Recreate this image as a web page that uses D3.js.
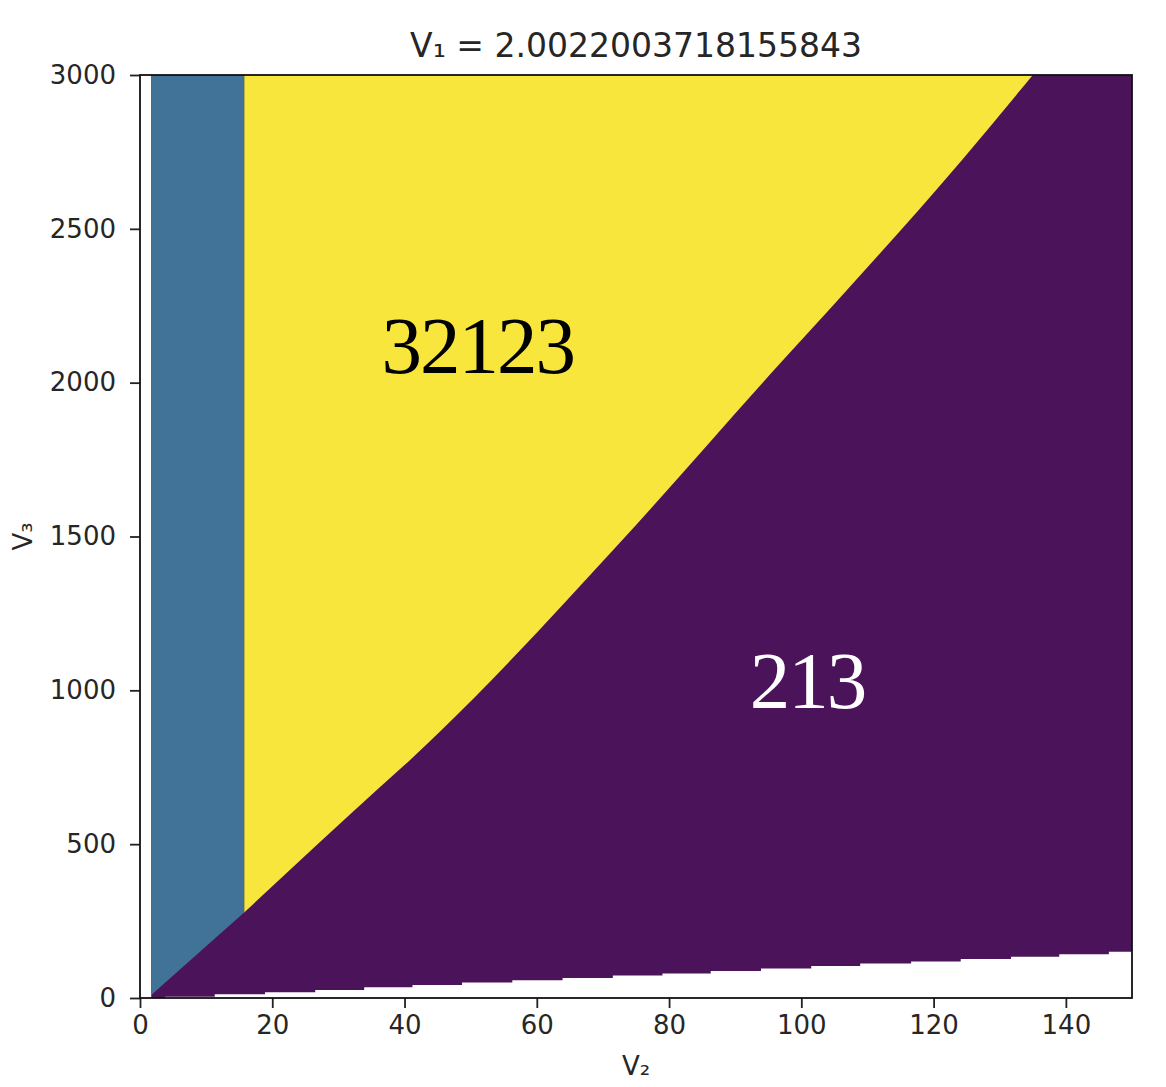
<!DOCTYPE html>
<html>
<head>
<meta charset="utf-8">
<script src="https://cdn.jsdelivr.net/npm/d3@7"></script>
<style>
  body { margin: 0; background: #fff; }
  text { font-family: "DejaVu Sans", sans-serif; }
</style>
</head>
<body>
<div id="regionChart"></div>
<script>
// Axis domains and ticks
const v2Domain = [0, 150];
const v3Domain = [0, 3000];
const xTicks = [0, 20, 40, 60, 80, 100, 120, 140];
const yTicks = [0, 500, 1000, 1500, 2000, 2500, 3000];

// Left edge of the coloured regions and the right edge of the blue band (V2)
const regionStartV2 = 1.7;
const blueEndV2 = 15.7;

// Yellow / purple boundary
const boundaryV2 = [1.7, 15.6, 36.3, 40.8, 45.6, 72.9, 96.8, 106.9, 124.3, 135.0];
const boundaryV3 = [10, 275, 686, 773, 871, 1488, 2063, 2301, 2724, 3000];

// White staircase at the bottom (step start V2, upper level V3)
const stepV2 = [3.8, 11.3, 18.9, 26.5, 33.9, 41.2, 48.7, 56.3, 63.9, 71.5, 79.0, 86.3, 93.9, 101.5, 108.9, 116.6, 124.1, 131.7, 139.0, 146.5, 150];
const stepV3 = [4, 12, 19, 26, 35, 42, 50, 58, 65, 73, 80, 88, 96, 104, 112, 119, 127, 134, 142, 150, 150];

// Region labels
const labelText = ["32123", "213"];
const labelV2 = [36.5, 92.2];
const labelV3 = [2031, 942];
const labelColor = ["#000", "#fff"];

const title = "V\u2081 = 2.0022003718155843";

const totalWidth = 1166, totalHeight = 1087;
const margin = { top: 75, left: 140, right: 34, bottom: 89 };
const w = totalWidth - margin.left - margin.right;
const h = totalHeight - margin.top - margin.bottom;

const purple = "#4b135a", blue = "#417398", yellow = "#f9e63d";

const svg = d3.select("#regionChart")
  .append("svg")
  .attr("width", totalWidth)
  .attr("height", totalHeight);

const g = svg.append("g")
  .attr("transform", `translate(${margin.left},${margin.top})`);

const x = d3.scaleLinear().domain(v2Domain).range([0, w]);
const y = d3.scaleLinear().domain(v3Domain).range([h, 0]);

g.append("clipPath").attr("id", "plotClip")
  .append("rect").attr("width", w).attr("height", h);

const plot = g.append("g").attr("clip-path", "url(#plotClip)");

// Purple fills everything right of the white strip
plot.append("rect")
  .attr("x", x(regionStartV2))
  .attr("y", y(v3Domain[1]))
  .attr("width", x(v2Domain[1]) - x(regionStartV2))
  .attr("height", y(v3Domain[0]) - y(v3Domain[1]))
  .attr("fill", purple);

const boundary = boundaryV2.map((d, i) => [d, boundaryV3[i]]);

// Points of the boundary inside a V2 range (with interpolated ends)
const interp = d3.scaleLinear().domain(boundaryV2).range(boundaryV3);
function boundarySlice(a, b) {
  const pts = [[a, interp(a)]];
  boundary.forEach(p => { if (p[0] > a + 0.5 && p[0] < b - 0.5) pts.push(p); });
  pts.push([b, interp(b)]);
  return pts;
}

const upperArea = d3.area()
  .x(d => x(d[0]))
  .y0(d => y(d[1]))
  .y1(y(v3Domain[1]))
  .curve(d3.curveMonotoneX);

// Blue band above the boundary
plot.append("path")
  .attr("fill", blue)
  .attr("d", upperArea(boundarySlice(regionStartV2, blueEndV2)));

// Yellow region above the boundary
plot.append("path")
  .attr("fill", yellow)
  .attr("d", upperArea(boundarySlice(blueEndV2, boundaryV2[boundaryV2.length - 1])));

// Thin dark edge between blue and yellow
plot.append("line")
  .attr("x1", x(blueEndV2)).attr("x2", x(blueEndV2))
  .attr("y1", y(v3Domain[1])).attr("y2", y(interp(blueEndV2)))
  .attr("stroke", "#5e6a45").attr("stroke-width", 1.2);

// White staircase at the bottom
const stairs = d3.area()
  .x((d, i) => x(stepV2[i]))
  .y0(y(0))
  .y1(d => y(d))
  .curve(d3.curveStepAfter);

plot.append("path")
  .attr("fill", "#fff")
  .attr("d", stairs(stepV3));

// Region labels
labelText.forEach((t, i) => {
  g.append("text")
    .attr("x", x(labelV2[i]))
    .attr("y", y(labelV3[i]))
    .attr("fill", labelColor[i])
    .style("font-family", "'Liberation Serif', 'Times New Roman', serif")
    .style("font-size", "81px")
    .style("letter-spacing", "-2px")
    .text(t);
});

// Axes
const xAxis = d3.axisBottom(x).tickValues(xTicks).tickSize(10).tickPadding(8).tickFormat(d3.format("d"));
const yAxis = d3.axisLeft(y).tickValues(yTicks).tickSize(10).tickPadding(14).tickFormat(d3.format("d"));

const gx = g.append("g")
  .attr("transform", `translate(0,${h})`)
  .call(xAxis);
const gy = g.append("g").call(yAxis);

[gx, gy].forEach(a => {
  a.select(".domain").remove();
  a.selectAll(".tick line").attr("stroke", "#222").attr("stroke-width", 1.8);
  a.selectAll(".tick text")
    .attr("fill", "#262626")
    .style("font-family", "'DejaVu Sans', sans-serif")
    .style("font-size", "26px");
});

// Frame
g.append("rect")
  .attr("width", w).attr("height", h)
  .attr("fill", "none")
  .attr("stroke", "#111")
  .attr("stroke-width", 1.8);

// Title and axis labels
svg.append("text")
  .attr("x", margin.left + w / 2)
  .attr("y", 57)
  .attr("text-anchor", "middle")
  .attr("fill", "#262626")
  .style("font-size", "33px")
  .text(title);

svg.append("text")
  .attr("x", margin.left + w / 2)
  .attr("y", 1075)
  .attr("text-anchor", "middle")
  .attr("fill", "#262626")
  .style("font-size", "26px")
  .text("V\u2082");

svg.append("text")
  .attr("transform", `translate(32,${margin.top + h / 2}) rotate(-90)`)
  .attr("text-anchor", "middle")
  .attr("fill", "#262626")
  .style("font-size", "26px")
  .text("V\u2083");
</script>
</body>
</html>
